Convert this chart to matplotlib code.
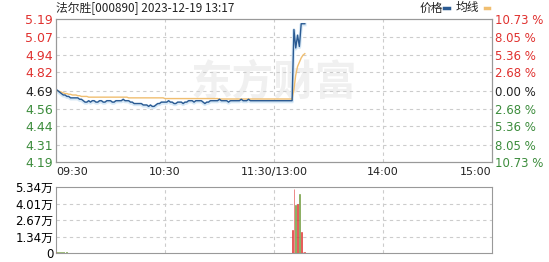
import matplotlib.pyplot as plt

plt.rcParams['font.family'] = ['DejaVu Sans', 'Noto Sans CJK SC']

# Data
title = '法尔胜[000890] 2023-12-19 13:17'
pre_close = 4.69
price_ticks = [4.19, 4.31, 4.44, 4.56, 4.69, 4.82, 4.94, 5.07, 5.19]
pct_labels = ['10.73 %', '8.05 %', '5.36 %', '2.68 %', '0.00 %', '2.68 %', '5.36 %', '8.05 %', '10.73 %']
vol_ticks = [0, 1.34, 2.67, 4.01, 5.34]
vol_labels = ['0', '1.34万', '2.67万', '4.01万', '5.34万']
time_labels = ['09:30', '10:30', '11:30/13:00', '14:00', '15:00']

price = ([4.70, 4.69, 4.68, 4.67, 4.66, 4.66, 4.65, 4.65, 4.64, 4.64,
          4.64, 4.64, 4.64, 4.63, 4.63, 4.62, 4.61, 4.61, 4.62, 4.61,
          4.62, 4.62, 4.61, 4.61, 4.62, 4.62, 4.61, 4.61, 4.62, 4.62,
          4.62, 4.61, 4.61, 4.62, 4.62, 4.62, 4.62, 4.63, 4.62, 4.62,
          4.62, 4.61, 4.61, 4.60, 4.60, 4.60, 4.60, 4.60, 4.59, 4.59,
          4.59, 4.58, 4.59, 4.58, 4.58, 4.59, 4.60, 4.60, 4.61, 4.61,
          4.61, 4.61, 4.62, 4.61, 4.61, 4.60, 4.60, 4.61, 4.61, 4.61,
          4.60, 4.61, 4.61, 4.62, 4.62, 4.62, 4.61, 4.62, 4.62, 4.62,
          4.62, 4.61, 4.60, 4.61, 4.61, 4.62, 4.62, 4.62, 4.62, 4.62,
          4.63, 4.62, 4.62, 4.62, 4.62, 4.61, 4.62, 4.62, 4.62, 4.62,
          4.62, 4.62, 4.63, 4.62, 4.62, 4.62, 4.63, 4.62, 4.62, 4.62]
         + [4.62] * 21
         + [5.12, 4.99, 5.08, 5.00, 5.16, 5.16, 5.16])

avg = ([4.69, 4.69, 4.685, 4.68, 4.675, 4.67, 4.67, 4.665, 4.665, 4.66,
        4.66, 4.66, 4.655, 4.655, 4.65, 4.65, 4.65, 4.65, 4.645, 4.645]
       + [4.645] * 20 + [4.64] * 20 + [4.635] * 30 + [4.632] * 41
       + [4.70, 4.80, 4.86, 4.89, 4.92, 4.94, 4.95])

volume = ([0.12, 0.08, 0.06, 0.05, 0.05, 0.04, 0.05, 0.04, 0.03, 0.04]
          + [0.04] * 120
          + [1.9, 5.2, 3.9, 4.0, 4.8, 1.7, 0.1, 0.05])

minutes = list(range(len(price)))

red = '#e0312f'
green = '#3c8c3c'
bar_green = '#6f9a3a'
grid_kw = dict(color='#cccccc', linestyle=(0, (3, 3)), linewidth=0.8)

fig = plt.figure(figsize=(5.49, 2.62), dpi=100)
ax = fig.add_axes([0.102, 0.3817, 0.794, 0.544])
axv = fig.add_axes([0.102, 0.034, 0.794, 0.252])

# watermark
ax.text(0.5, 0.56, '东方财富', transform=ax.transAxes, fontsize=30, fontweight='bold',
        style='italic', color='#f0f0f0', ha='center', va='center',
        family=['Noto Sans CJK SC'], zorder=0)

# price chart
ax.plot(minutes, [p - 0.006 for p in price], color='#d6e8f6', linewidth=2.5, zorder=2)
ax.plot(minutes, avg, color='#f0be70', linewidth=1.0, zorder=3)
ax.plot(minutes, price, color='#2a5a92', linewidth=1.0, zorder=4)

ax.set_xlim(0, 240)
ax.set_ylim(4.19, 5.19)
ax.set_yticks(price_ticks)
ax.set_yticklabels(['%.2f' % t for t in price_ticks])
for t, lab in zip(price_ticks, ax.get_yticklabels()):
    lab.set_color(red if t > pre_close + 0.001 else ('#222222' if abs(t - pre_close) < 0.001 else green))
ax.set_xticks([60, 120, 180])
ax.tick_params(axis='x', length=0, labelbottom=False)
ax.tick_params(axis='y', length=0, labelsize=9, pad=2)
for t in price_ticks[1:-1]:
    ax.axhline(t, **grid_kw, zorder=1)
for t in [60, 120, 180]:
    ax.axvline(t, **grid_kw, zorder=1)

axr = ax.twinx()
axr.set_ylim(4.19, 5.19)
axr.set_yticks(price_ticks)
axr.set_yticklabels(pct_labels)
for t, lab in zip(price_ticks, axr.get_yticklabels()):
    lab.set_color(red if t > pre_close + 0.001 else ('#222222' if abs(t - pre_close) < 0.001 else green))
axr.tick_params(axis='y', length=0, labelsize=8.5, pad=2)

for a in (ax, axr, axv):
    for s in a.spines.values():
        s.set_color('#999999')
        s.set_linewidth(0.8)

# time labels
xpos = [0, 60, 120, 180, 240]
aligns = ['left', 'center', 'center', 'center', 'right']
for x, lab, ha in zip(xpos, time_labels, aligns):
    ax.text(x, -0.035, lab, transform=ax.get_xaxis_transform(), ha=ha, va='top',
            fontsize=8, color='#222222')

# volume chart
colors = [red]
for i in range(1, len(price)):
    colors.append(red if price[i] >= price[i - 1] else bar_green)
axv.bar(minutes, volume, width=0.45, color=colors, edgecolor=colors, linewidth=0.4, zorder=3)
axv.set_xlim(0, 240)
axv.set_ylim(0, 5.34)
axv.set_yticks(vol_ticks)
axv.set_yticklabels(vol_labels)
axv.tick_params(axis='y', length=0, labelsize=8.5, pad=2)
axv.tick_params(axis='x', length=0, labelbottom=False)
for lab in axv.get_yticklabels():
    lab.set_family(['DejaVu Sans', 'Noto Sans CJK SC'])
for t in vol_ticks[1:-1]:
    axv.axhline(t, **grid_kw, zorder=1)
for t in [60, 120, 180]:
    axv.axvline(t, **grid_kw, zorder=1)

# title and legend
fig.text(0.102, 0.945, title, fontsize=8.5, ha='left', va='bottom', color='#222222',
         family=['Noto Sans CJK SC', 'DejaVu Sans'])
fig.text(0.765, 0.945, '价格', fontsize=8.5, ha='left', va='bottom', color='#222222',
         family=['Noto Sans CJK SC'])
fig.text(0.83, 0.945, '均线', fontsize=8.5, ha='left', va='bottom', color='#222222',
         family=['Noto Sans CJK SC'])
fig.add_artist(plt.Line2D([0.809, 0.817], [0.968, 0.968], color='#2a5a92', linewidth=2.5))
fig.add_artist(plt.Line2D([0.883, 0.891], [0.968, 0.968], color='#f0be70', linewidth=2.5))

fig.savefig('out.png', dpi=100)
